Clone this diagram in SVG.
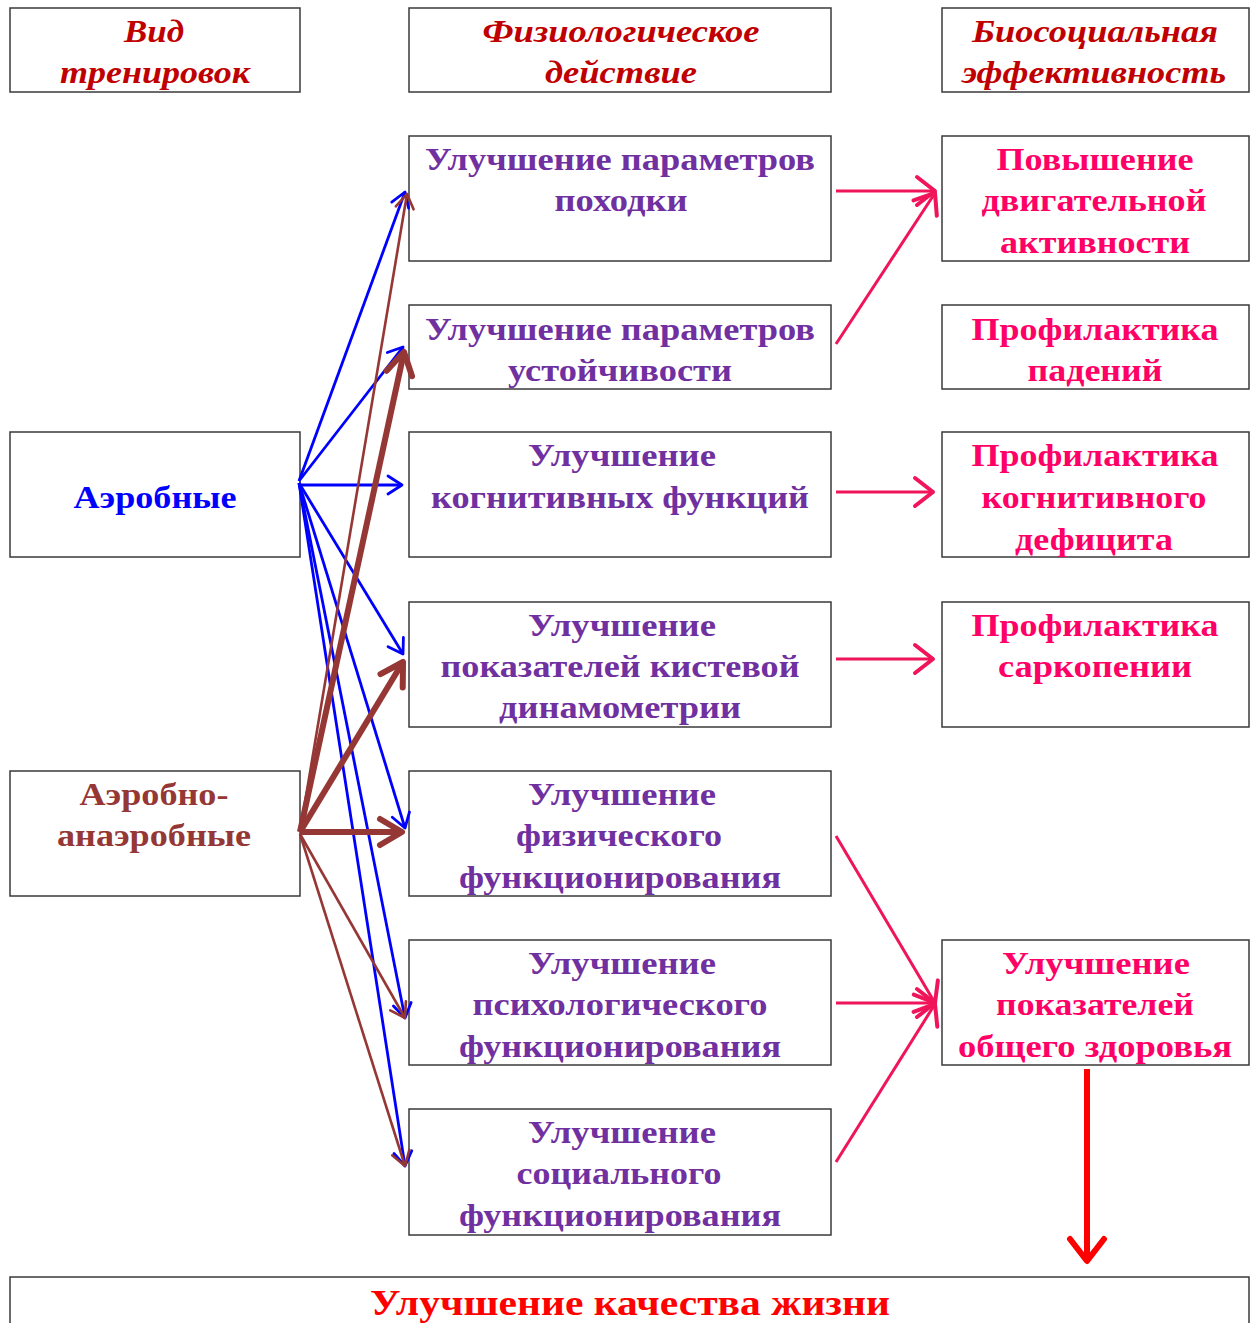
<svg xmlns="http://www.w3.org/2000/svg" width="1257" height="1323" viewBox="0 0 1257 1323">
<style>
.box{fill:#fff;stroke:#3a3a3a;stroke-width:1.5}
.t{font-family:"Liberation Serif","Times New Roman",serif;font-weight:bold;font-size:31px;text-anchor:middle}
.h{font-style:italic;fill:#c00000}
.p{fill:#7030a0}
.k{fill:#ff0066}
.b{fill:#0000ff}
.br{fill:#953735}
.r{fill:#ff0000}
.bl{stroke:#0000ff;stroke-width:2.8;fill:none}
.bt{stroke:#953735;stroke-width:2.6;fill:none}
.bT{stroke:#953735;stroke-width:6;fill:none}
.pk{stroke:#f0145a;stroke-width:3;fill:none}
.rd{stroke:#ff0000;stroke-width:6;fill:none}
</style>
<defs>
<marker id="mb" markerUnits="userSpaceOnUse" markerWidth="20" markerHeight="24" refX="14" refY="10" orient="auto" overflow="visible"><path d="M0,1 L14,10 L0,19" fill="none" stroke="#0000ff" stroke-width="2.8" stroke-linecap="round" stroke-linejoin="round"/></marker>
<marker id="mt" markerUnits="userSpaceOnUse" markerWidth="20" markerHeight="24" refX="14" refY="10" orient="auto" overflow="visible"><path d="M0,1 L14,10 L0,19" fill="none" stroke="#953735" stroke-width="2.6" stroke-linecap="round" stroke-linejoin="round"/></marker>
<marker id="mT" markerUnits="userSpaceOnUse" markerWidth="30" markerHeight="30" refX="22" refY="13" orient="auto" overflow="visible"><path d="M0,0 L22,13 L0,26" fill="none" stroke="#953735" stroke-width="6" stroke-linecap="round" stroke-linejoin="round"/></marker>
<marker id="mp" markerUnits="userSpaceOnUse" markerWidth="24" markerHeight="30" refX="18" refY="14" orient="auto" overflow="visible"><path d="M0,0 L18,14 L0,28" fill="none" stroke="#f0145a" stroke-width="4" stroke-linecap="round" stroke-linejoin="round"/></marker>
<marker id="mr" markerUnits="userSpaceOnUse" markerWidth="30" markerHeight="30" refX="22" refY="17" orient="auto" overflow="visible"><path d="M0,0 L22,17 L0,34" fill="none" stroke="#ff0000" stroke-width="6" stroke-linecap="round" stroke-linejoin="round"/></marker>
</defs>

<g id="hdr1"><rect class="box" x="10" y="8" width="290" height="84"/>
<text class="t h" x="154" y="42" textLength="60" lengthAdjust="spacingAndGlyphs">Вид</text>
<text class="t h" x="155" y="83" textLength="190" lengthAdjust="spacingAndGlyphs">тренировок</text></g>
<g id="hdr2"><rect class="box" x="409" y="8" width="422" height="84"/>
<text class="t h" x="621" y="42" textLength="277" lengthAdjust="spacingAndGlyphs">Физиологическое</text>
<text class="t h" x="621" y="83" textLength="152" lengthAdjust="spacingAndGlyphs">действие</text></g>
<g id="hdr3"><rect class="box" x="942" y="8" width="307" height="84"/>
<text class="t h" x="1095" y="42" textLength="246" lengthAdjust="spacingAndGlyphs">Биосоциальная</text>
<text class="t h" x="1094" y="83" textLength="264" lengthAdjust="spacingAndGlyphs">эффективность</text></g>

<g id="aer"><rect class="box" x="10" y="432" width="290" height="125"/>
<text class="t b" x="155" y="508" textLength="163" lengthAdjust="spacingAndGlyphs">Аэробные</text></g>
<g id="aeran"><rect class="box" x="10" y="771" width="290" height="125"/>
<text class="t br" x="154" y="805" textLength="149" lengthAdjust="spacingAndGlyphs">Аэробно-</text>
<text class="t br" x="154" y="846" textLength="194" lengthAdjust="spacingAndGlyphs">анаэробные</text></g>

<g id="m1"><rect class="box" x="409" y="136" width="422" height="125"/>
<text class="t p" x="620" y="170" textLength="390" lengthAdjust="spacingAndGlyphs">Улучшение параметров</text>
<text class="t p" x="621" y="211" textLength="133" lengthAdjust="spacingAndGlyphs">походки</text></g>
<g id="m2"><rect class="box" x="409" y="305" width="422" height="84"/>
<text class="t p" x="620" y="340" textLength="390" lengthAdjust="spacingAndGlyphs">Улучшение параметров</text>
<text class="t p" x="620" y="381" textLength="224" lengthAdjust="spacingAndGlyphs">устойчивости</text></g>
<g id="m3"><rect class="box" x="409" y="432" width="422" height="125"/>
<text class="t p" x="622" y="466" textLength="188" lengthAdjust="spacingAndGlyphs">Улучшение</text>
<text class="t p" x="620" y="508" textLength="378" lengthAdjust="spacingAndGlyphs">когнитивных функций</text></g>
<g id="m4"><rect class="box" x="409" y="602" width="422" height="125"/>
<text class="t p" x="622" y="636" textLength="188" lengthAdjust="spacingAndGlyphs">Улучшение</text>
<text class="t p" x="620" y="677" textLength="359" lengthAdjust="spacingAndGlyphs">показателей кистевой</text>
<text class="t p" x="620" y="718" textLength="242" lengthAdjust="spacingAndGlyphs">динамометрии</text></g>
<g id="m5"><rect class="box" x="409" y="771" width="422" height="125"/>
<text class="t p" x="622" y="805" textLength="188" lengthAdjust="spacingAndGlyphs">Улучшение</text>
<text class="t p" x="619" y="846" textLength="206" lengthAdjust="spacingAndGlyphs">физического</text>
<text class="t p" x="620" y="888" textLength="322" lengthAdjust="spacingAndGlyphs">функционирования</text></g>
<g id="m6"><rect class="box" x="409" y="940" width="422" height="125"/>
<text class="t p" x="622" y="974" textLength="188" lengthAdjust="spacingAndGlyphs">Улучшение</text>
<text class="t p" x="620" y="1015" textLength="295" lengthAdjust="spacingAndGlyphs">психологического</text>
<text class="t p" x="620" y="1057" textLength="322" lengthAdjust="spacingAndGlyphs">функционирования</text></g>
<g id="m7"><rect class="box" x="409" y="1109" width="422" height="126"/>
<text class="t p" x="622" y="1143" textLength="188" lengthAdjust="spacingAndGlyphs">Улучшение</text>
<text class="t p" x="619" y="1184" textLength="205" lengthAdjust="spacingAndGlyphs">социального</text>
<text class="t p" x="620" y="1226" textLength="322" lengthAdjust="spacingAndGlyphs">функционирования</text></g>

<g id="r1"><rect class="box" x="942" y="136" width="307" height="125"/>
<text class="t k" x="1095" y="170" textLength="197" lengthAdjust="spacingAndGlyphs">Повышение</text>
<text class="t k" x="1094" y="211" textLength="225" lengthAdjust="spacingAndGlyphs">двигательной</text>
<text class="t k" x="1095" y="253" textLength="190" lengthAdjust="spacingAndGlyphs">активности</text></g>
<g id="r2"><rect class="box" x="942" y="305" width="307" height="84"/>
<text class="t k" x="1095" y="340" textLength="247" lengthAdjust="spacingAndGlyphs">Профилактика</text>
<text class="t k" x="1095" y="381" textLength="135" lengthAdjust="spacingAndGlyphs">падений</text></g>
<g id="r3"><rect class="box" x="942" y="432" width="307" height="125"/>
<text class="t k" x="1095" y="466" textLength="247" lengthAdjust="spacingAndGlyphs">Профилактика</text>
<text class="t k" x="1094" y="508" textLength="225" lengthAdjust="spacingAndGlyphs">когнитивного</text>
<text class="t k" x="1094" y="550" textLength="158" lengthAdjust="spacingAndGlyphs">дефицита</text></g>
<g id="r4"><rect class="box" x="942" y="602" width="307" height="125"/>
<text class="t k" x="1095" y="636" textLength="247" lengthAdjust="spacingAndGlyphs">Профилактика</text>
<text class="t k" x="1095" y="677" textLength="194" lengthAdjust="spacingAndGlyphs">саркопении</text></g>
<g id="r5"><rect class="box" x="942" y="940" width="307" height="125"/>
<text class="t k" x="1096" y="974" textLength="188" lengthAdjust="spacingAndGlyphs">Улучшение</text>
<text class="t k" x="1095" y="1015" textLength="198" lengthAdjust="spacingAndGlyphs">показателей</text>
<text class="t k" x="1095" y="1057" textLength="274" lengthAdjust="spacingAndGlyphs">общего здоровья</text></g>

<g id="qol"><rect class="box" x="10" y="1277" width="1239" height="60"/>
<text class="t r" x="630" y="1315" style="font-size:35px" textLength="520" lengthAdjust="spacingAndGlyphs">Улучшение качества жизни</text></g>

<g id="connectors">
<line class="bl" x1="299" y1="481" x2="405" y2="192" marker-end="url(#mb)"/>
<line class="bl" x1="299" y1="481" x2="403" y2="347" marker-end="url(#mb)"/>
<line class="bl" x1="299" y1="485" x2="402" y2="485" marker-end="url(#mb)"/>
<line class="bl" x1="299" y1="483" x2="403" y2="654" marker-end="url(#mb)"/>
<line class="bl" x1="299" y1="483" x2="405" y2="828" marker-end="url(#mb)"/>
<line class="bl" x1="299" y1="483" x2="405" y2="1018" marker-end="url(#mb)"/>
<line class="bl" x1="299" y1="483" x2="405" y2="1166" marker-end="url(#mb)"/>
<line class="bt" x1="300" y1="832" x2="407" y2="194" marker-end="url(#mt)"/>
<line class="bT" x1="300" y1="832" x2="404" y2="352" marker-end="url(#mT)"/>
<line class="bT" x1="300" y1="832" x2="403" y2="662" marker-end="url(#mT)"/>
<line class="bT" x1="300" y1="832" x2="402" y2="832" marker-end="url(#mT)"/>
<line class="bt" x1="300" y1="834" x2="405" y2="1018" marker-end="url(#mt)"/>
<line class="bt" x1="300" y1="834" x2="405" y2="1166" marker-end="url(#mt)"/>
<line class="pk" x1="836" y1="191" x2="935" y2="191" marker-end="url(#mp)"/>
<line class="pk" x1="836" y1="344" x2="935" y2="193" marker-end="url(#mp)"/>
<line class="pk" x1="836" y1="492" x2="933" y2="492" marker-end="url(#mp)"/>
<line class="pk" x1="836" y1="659" x2="933" y2="659" marker-end="url(#mp)"/>
<line class="pk" x1="836" y1="836" x2="935" y2="1003" marker-end="url(#mp)"/>
<line class="pk" x1="836" y1="1003" x2="935" y2="1003" marker-end="url(#mp)"/>
<line class="pk" x1="836" y1="1162" x2="935" y2="1004" marker-end="url(#mp)"/>
<line class="rd" x1="1087" y1="1069" x2="1087" y2="1261" marker-end="url(#mr)"/>
</g>
</svg>
